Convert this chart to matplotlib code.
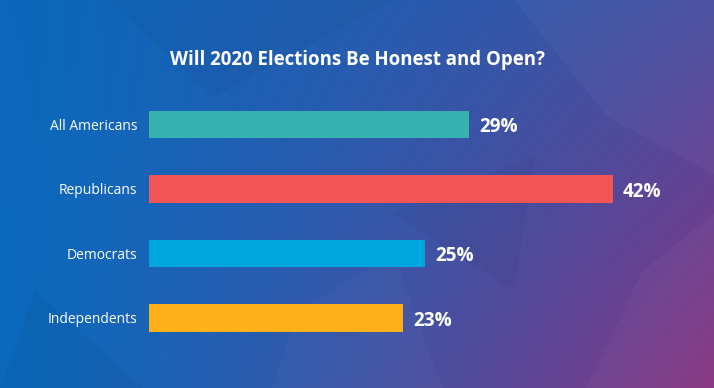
import numpy as np
import matplotlib
matplotlib.use("Agg")
import matplotlib.pyplot as plt
from matplotlib.patches import Polygon

groups = ["All Americans", "Republicans", "Democrats", "Independents"]
values = [29, 42, 25, 23]
colors = ["#36b3b1", "#f05454", "#00a6e0", "#fdb017"]
title = "Will 2020 Elections Be Honest and Open?"

plt.rcParams["font.family"] = ["Open Sans", "DejaVu Sans"]


def background(fig):
    bg = fig.add_axes([0, 0, 1, 1], zorder=0)
    bg.set_axis_off()
    tl = np.array([11, 104, 188]) / 255
    tr = np.array([72, 78, 160]) / 255
    bl = np.array([11, 106, 190]) / 255
    br = np.array([136, 52, 130]) / 255
    u = np.linspace(0, 1, 400)[None, :, None]
    v = np.linspace(0, 1, 220)[:, None, None]
    # bend the blend so the blue holds on longer on the left
    uu = u ** 1.3
    img = (1 - v) * ((1 - uu) * tl + uu * tr) + v * ((1 - uu) * bl + uu * br)
    bg.imshow(img, extent=[0, 1, 0, 1], aspect="auto", origin="upper")
    # a few faint facets
    facets = [
        ([(0.0, 0.0), (0.2, 0.0), (0.05, 0.25)], "black", 0.04),
        ([(0.38, 0.0), (0.62, 0.0), (0.55, 0.35), (0.42, 0.2)], "white", 0.025),
        ([(0.72, 1.0), (1.0, 1.0), (1.0, 0.55), (0.85, 0.7)], "white", 0.03),
        ([(0.3, 0.75), (0.55, 1.0), (0.15, 1.0)], "black", 0.03),
        ([(0.82, 0.0), (1.0, 0.0), (1.0, 0.45), (0.9, 0.3)], "white", 0.03),
        ([(0.55, 0.45), (0.75, 0.6), (0.72, 0.25)], "black", 0.03),
    ]
    for pts, c, a in facets:
        bg.add_patch(Polygon(pts, closed=True, facecolor=c, alpha=a,
                             edgecolor="none", transform=bg.transAxes))
    bg.set_xlim(0, 1)
    bg.set_ylim(0, 1)


def main():
    fig = plt.figure(figsize=(7.14, 3.88), dpi=100)
    background(fig)

    ax = fig.add_axes([149 / 714, 0.0973, 552 / 714, 0.665], zorder=1)
    ax.patch.set_alpha(0)
    y = np.arange(len(groups))
    ax.barh(y, values, height=0.43, color=colors)
    ax.set_xlim(0, 50)
    ax.set_ylim(3.5, -0.5)
    ax.set_yticks(y, groups)
    ax.tick_params(axis="y", length=0, pad=8.6, labelsize=10, labelcolor="white")
    ax.set_xticks([])
    for s in ax.spines.values():
        s.set_visible(False)

    for yi, v in zip(y, values):
        ax.annotate(f"{v}%", (v, yi), xytext=(7.5, -2), textcoords="offset points",
                    va="center", ha="left", color="white", fontsize=13.6,
                    fontweight="bold")

    fig.text(0.5, 1 - 60 / 388, title, ha="center", va="center",
             color="white", fontsize=13.4, fontweight="bold")

    fig.savefig("out.png", dpi=100)


if __name__ == "__main__":
    main()
